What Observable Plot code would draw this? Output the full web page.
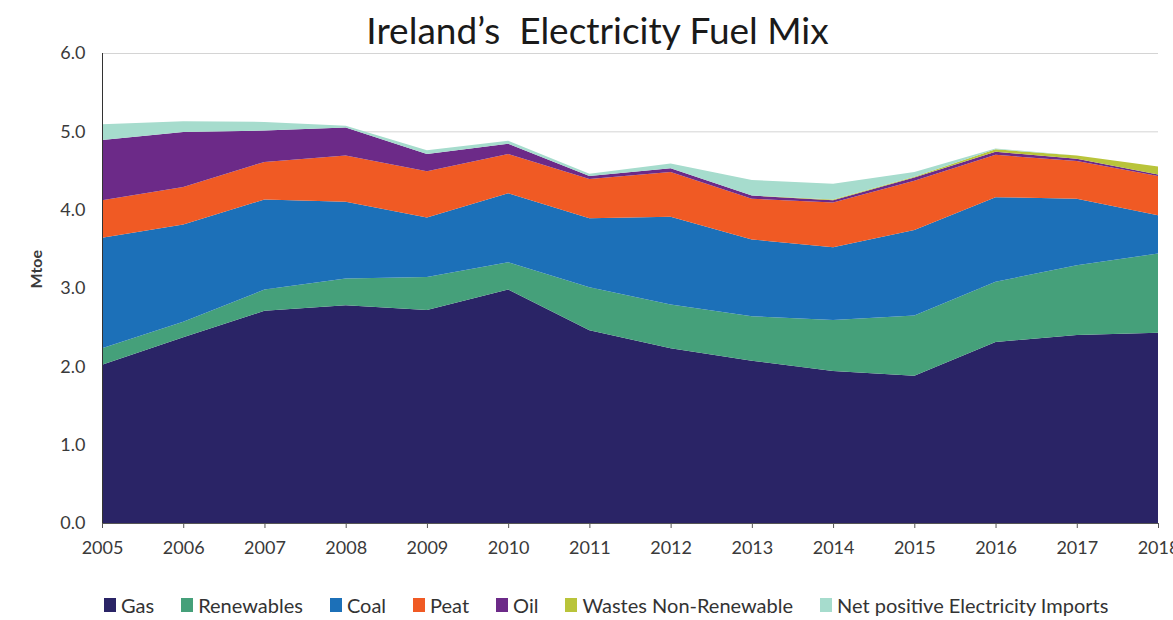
<!DOCTYPE html>
<html>
<head>
<meta charset="utf-8">
<script src="https://cdn.jsdelivr.net/npm/d3@7"></script>
<script src="https://cdn.jsdelivr.net/npm/@observablehq/plot@0.6"></script>
<style>
  html, body { margin: 0; padding: 0; background: #fff; }
  body { width: 1173px; height: 620px; overflow: hidden; }
  #title { height: 40px; box-sizing: border-box; padding-top: 7px; padding-left: 22px; font: 37px Lato, sans-serif; line-height: 46px; text-align: center; color: #1a1a1a; white-space: pre; overflow: visible; }
  #legend { height: 55px; box-sizing: border-box; padding-top: 24px; padding-left: 104px; display: flex; align-items: center; gap: 27px; font: 20px Lato, sans-serif; color: #333; line-height: 1.2; }
  .item { display: flex; align-items: center; }
  .sw { width: 12px; height: 14px; margin-right: 5px; display: inline-block; }
</style>
</head>
<body>
<div id="title">Ireland’s  Electricity Fuel Mix</div>
<div id="chart"></div>
<div id="legend"></div>
<script>
const years = [2005, 2006, 2007, 2008, 2009, 2010, 2011, 2012, 2013, 2014, 2015, 2016, 2017, 2018];
const fuels = ["Gas", "Renewables", "Coal", "Peat", "Oil", "Wastes Non-Renewable", "Net positive Electricity Imports"];
const colors = ["#2a2466", "#45a07a", "#1c70b8", "#f05a24", "#6c2a88", "#b9c43a", "#a6dccd"];

const gas        = [2.02, 2.37, 2.71, 2.78, 2.72, 2.98, 2.46, 2.23, 2.07, 1.94, 1.88, 2.31, 2.40, 2.43];
const renewables = [0.21, 0.20, 0.27, 0.34, 0.42, 0.35, 0.55, 0.56, 0.57, 0.65, 0.77, 0.77, 0.89, 1.01];
const coal       = [1.41, 1.24, 1.15, 0.98, 0.76, 0.88, 0.88, 1.12, 0.98, 0.93, 1.09, 1.08, 0.85, 0.49];
const peat       = [0.48, 0.48, 0.48, 0.59, 0.59, 0.50, 0.50, 0.57, 0.52, 0.57, 0.63, 0.54, 0.48, 0.50];
const oil        = [0.77, 0.70, 0.40, 0.36, 0.22, 0.13, 0.04, 0.05, 0.04, 0.03, 0.04, 0.04, 0.03, 0.02];
const wastes     = [0.00, 0.00, 0.00, 0.00, 0.00, 0.00, 0.00, 0.00, 0.00, 0.01, 0.01, 0.03, 0.04, 0.10];
const imports    = [0.20, 0.14, 0.11, 0.02, 0.05, 0.04, 0.03, 0.06, 0.20, 0.20, 0.06, 0.01, 0.00, 0.00];

const yTicks = [0, 1, 2, 3, 4, 5, 6];
const series = [gas, renewables, coal, peat, oil, wastes, imports];

const data = years.flatMap((yr, i) => fuels.map((f, j) => ({year: yr, fuel: f, value: series[j][i]})));

const chart = Plot.plot({
  width: 1173,
  height: 525,
  marginTop: 13,
  marginBottom: 42,
  marginLeft: 102,
  marginRight: 15,
  style: {fontFamily: "Lato, sans-serif", fontSize: "18px", color: "#3a3a3a", overflow: "visible", background: "#fff"},
  x: {domain: [2005, 2018]},
  y: {domain: [0, 6]},
  color: {domain: fuels, range: colors},
  marks: [
    Plot.gridY(yTicks, {stroke: "#d4d4d4", strokeOpacity: 1}),
    Plot.areaY(data, {x: "year", y: "value", fill: "fuel", order: fuels}),
    Plot.ruleY([0], {stroke: "#555"}),
    Plot.ruleX([2005], {stroke: "#333"}),
    Plot.axisX(years, {tickSize: 5, tickPadding: 13, tickFormat: d => String(d), label: null, stroke: "#555"}),
    Plot.axisY(yTicks, {tickSize: 0, tickPadding: 17, tickFormat: d => d.toFixed(1), label: null}),
    Plot.text(["Mtoe"], {frameAnchor: "left", dx: -66, rotate: -90, fontWeight: "bold", fontSize: 16, fill: "#3a3a3a"})
  ]
});
document.getElementById("chart").appendChild(chart);

const legend = document.getElementById("legend");
fuels.forEach((f, i) => {
  const item = document.createElement("div");
  item.className = "item";
  const sw = document.createElement("span");
  sw.className = "sw";
  sw.style.background = colors[i];
  const t = document.createElement("span");
  t.textContent = f;
  item.appendChild(sw);
  item.appendChild(t);
  legend.appendChild(item);
});
</script>
</body>
</html>
